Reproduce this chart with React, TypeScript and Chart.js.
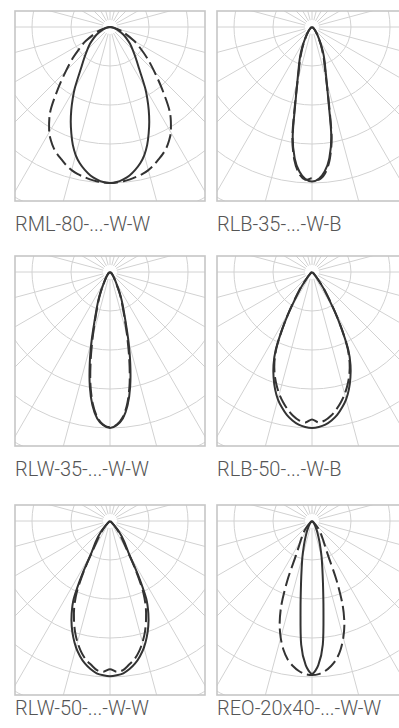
import React, { useEffect, useRef } from "react";
import { Chart, registerables } from "chart.js";

Chart.register(...registerables);

// Polar angles (degrees from nadir) shared by every curve
const ANGLES = [0, 2.5, 5, 7.5, 10, 12.5, 15, 17.5, 20, 22.5, 25, 27.5, 30, 35, 40, 45, 50, 55, 60, 70, 80, 90];

// Relative intensities (4 = outer ring) per product: solid curve and dashed curve
const RML80_SOLID = [4.0, 3.98, 3.92, 3.84, 3.72, 3.58, 3.4, 3.17, 2.9, 2.63, 2.35, 2.07, 1.8, 1.3, 1.02, 0.82, 0.67, 0.52, 0.4, 0.2, 0.06, 0];
const RML80_DASHED = [4.0, 3.99, 3.97, 3.94, 3.9, 3.86, 3.8, 3.72, 3.62, 3.53, 3.42, 3.28, 3.12, 2.68, 2.08, 1.6, 1.25, 0.95, 0.72, 0.33, 0.1, 0];

const RLB35_SOLID = [3.96, 3.9, 3.72, 3.4, 2.85, 1.95, 1.45, 1.15, 0.95, 0.78, 0.62, 0.48, 0.37, 0.24, 0.15, 0.1, 0.06, 0.04, 0.02, 0, 0, 0];
const RLB35_DASHED = [3.88, 3.92, 3.78, 3.45, 2.9, 2.0, 1.42, 1.1, 0.9, 0.72, 0.58, 0.45, 0.35, 0.22, 0.14, 0.09, 0.05, 0.03, 0.01, 0, 0, 0];

const RLW35_SOLID = [4.0, 3.93, 3.77, 3.45, 2.98, 2.4, 1.82, 1.32, 1.0, 0.78, 0.58, 0.4, 0.3, 0.18, 0.12, 0.08, 0.05, 0.03, 0.02, 0, 0, 0];
const RLW35_DASHED = [3.98, 3.92, 3.74, 3.4, 2.9, 2.28, 1.7, 1.25, 0.95, 0.74, 0.55, 0.38, 0.28, 0.17, 0.11, 0.07, 0.04, 0.02, 0.01, 0, 0, 0];

const RLB50_SOLID = [4.0, 3.98, 3.93, 3.84, 3.72, 3.56, 3.38, 3.15, 2.88, 2.58, 2.2, 1.65, 1.15, 0.52, 0.2, 0.07, 0.02, 0, 0, 0, 0, 0];
const RLB50_DASHED = [3.78, 3.86, 3.82, 3.72, 3.58, 3.42, 3.24, 3.03, 2.8, 2.52, 2.16, 1.66, 1.18, 0.55, 0.2, 0.07, 0.02, 0, 0, 0, 0, 0];

const RLW50_SOLID = [3.98, 3.96, 3.92, 3.83, 3.71, 3.55, 3.36, 3.13, 2.87, 2.57, 2.2, 1.55, 0.98, 0.62, 0.36, 0.13, 0.04, 0.01, 0, 0, 0, 0];
const RLW50_DASHED = [3.8, 3.87, 3.84, 3.72, 3.6, 3.43, 3.22, 2.98, 2.7, 2.4, 2.02, 1.45, 0.92, 0.5, 0.28, 0.1, 0.03, 0, 0, 0, 0, 0];

const REO2040_SOLID = [3.92, 3.7, 3.18, 2.25, 1.62, 1.22, 0.95, 0.72, 0.55, 0.42, 0.33, 0.25, 0.19, 0.12, 0.07, 0.04, 0.02, 0.01, 0, 0, 0, 0];
const REO2040_DASHED = [3.95, 3.93, 3.86, 3.75, 3.6, 3.38, 3.1, 2.76, 2.3, 1.65, 0.98, 0.72, 0.58, 0.4, 0.25, 0.12, 0.05, 0.02, 0, 0, 0, 0];

const LABELS = [
  "RML-80-...-W-W",
  "RLB-35-...-W-B",
  "RLW-35-...-W-W",
  "RLB-50-...-W-B",
  "RLW-50-...-W-W",
  "REO-20x40-...-W-W",
];

const SERIES = [
  [RML80_SOLID, RML80_DASHED],
  [RLB35_SOLID, RLB35_DASHED],
  [RLW35_SOLID, RLW35_DASHED],
  [RLB50_SOLID, RLB50_DASHED],
  [RLW50_SOLID, RLW50_DASHED],
  [REO2040_SOLID, REO2040_DASHED],
];

// Grid definition (ring values and spoke step)
const RINGS = [1, 2, 3, 4, 5, 6];
const SPOKE_STEP = 15;

// layout (pixels)
const RING_PX = 39;
const BOX = 190;
const CENTER_OFFSET = 16;
const COL_LEFT = [15, 217];
const ROW_TOP = [11, 256, 505];
const LABEL_BASELINE = [231, 476, 715];

function toPoints(values: number[]) {
  const pts: { x: number; y: number }[] = [];
  for (let i = ANGLES.length - 1; i >= 0; i--) {
    const a = (-ANGLES[i] * Math.PI) / 180;
    pts.push({ x: values[i] * Math.sin(a), y: -values[i] * Math.cos(a) });
  }
  for (let i = 1; i < ANGLES.length; i++) {
    const a = (ANGLES[i] * Math.PI) / 180;
    pts.push({ x: values[i] * Math.sin(a), y: -values[i] * Math.cos(a) });
  }
  return pts;
}

const polarGrid = {
  id: "polarGrid",
  beforeDatasetsDraw(chart: any) {
    const { ctx, chartArea, scales } = chart;
    const xs = scales.x;
    const ys = scales.y;
    const cx = xs.getPixelForValue(0);
    const cy = ys.getPixelForValue(0);
    const unit = xs.getPixelForValue(1) - cx;
    ctx.save();
    ctx.beginPath();
    ctx.rect(chartArea.left, chartArea.top, chartArea.right - chartArea.left, chartArea.bottom - chartArea.top);
    ctx.clip();
    ctx.strokeStyle = "#d2d2d2";
    ctx.lineWidth = 1;
    RINGS.forEach((r) => {
      ctx.beginPath();
      ctx.arc(cx, cy, r * unit, 0, Math.PI * 2);
      ctx.stroke();
    });
    for (let deg = 0; deg < 360; deg += SPOKE_STEP) {
      const a = (deg * Math.PI) / 180;
      const r0 = 0.18 * unit;
      const r1 = 8 * unit;
      ctx.beginPath();
      ctx.moveTo(cx + r0 * Math.sin(a), cy + r0 * Math.cos(a));
      ctx.lineTo(cx + r1 * Math.sin(a), cy + r1 * Math.cos(a));
      ctx.stroke();
    }
    ctx.restore();
    ctx.save();
    ctx.strokeStyle = "#c6c6c6";
    ctx.lineWidth = 1.6;
    ctx.strokeRect(chartArea.left, chartArea.top, chartArea.right - chartArea.left, chartArea.bottom - chartArea.top);
    ctx.restore();
  },
};

function Panel({ index }: { index: number }) {
  const ref = useRef<HTMLCanvasElement | null>(null);
  const col = index % 2;
  const row = Math.floor(index / 2);
  useEffect(() => {
    if (!ref.current) return;
    const [solid, dashed] = SERIES[index];
    const half = BOX / 2 / RING_PX;
    const chart = new Chart(ref.current, {
      type: "scatter",
      data: {
        datasets: [
          {
            data: toPoints(dashed),
            showLine: true,
            borderColor: "#333333",
            borderWidth: 2,
            borderDash: [14, 5],
            pointRadius: 0,
            tension: 0.3,
            fill: false,
          },
          {
            data: toPoints(solid),
            showLine: true,
            borderColor: "#333333",
            borderWidth: 2,
            pointRadius: 0,
            tension: 0.3,
            fill: false,
          },
        ],
      },
      options: {
        animation: false,
        responsive: false,
        devicePixelRatio: 1,
        layout: { padding: 1 },
        scales: {
          x: { type: "linear", min: -half, max: half, display: false },
          y: {
            type: "linear",
            min: -(BOX - CENTER_OFFSET) / RING_PX,
            max: CENTER_OFFSET / RING_PX,
            display: false,
          },
        },
        plugins: { legend: { display: false }, tooltip: { enabled: false } },
      },
      plugins: [polarGrid],
    });
    return () => chart.destroy();
  }, [index]);

  return (
    <>
      <canvas
        ref={ref}
        width={BOX + 2}
        height={BOX + 2}
        style={{ position: "absolute", left: COL_LEFT[col] - 1, top: ROW_TOP[row] - 1 }}
      />
      <div
        style={{
          position: "absolute",
          left: COL_LEFT[col],
          top: LABEL_BASELINE[row] - 17,
          font: "300 20px Roboto, sans-serif",
          lineHeight: "20px",
          color: "#555555",
          whiteSpace: "nowrap",
        }}
      >
        {LABELS[index]}
      </div>
    </>
  );
}

export default function App() {
  return (
    <div
      style={{
        position: "absolute",
        left: 0,
        top: 0,
        width: 399,
        height: 728,
        overflow: "hidden",
        background: "#ffffff",
      }}
    >
      {LABELS.map((_, i) => (
        <Panel key={i} index={i} />
      ))}
    </div>
  );
}
